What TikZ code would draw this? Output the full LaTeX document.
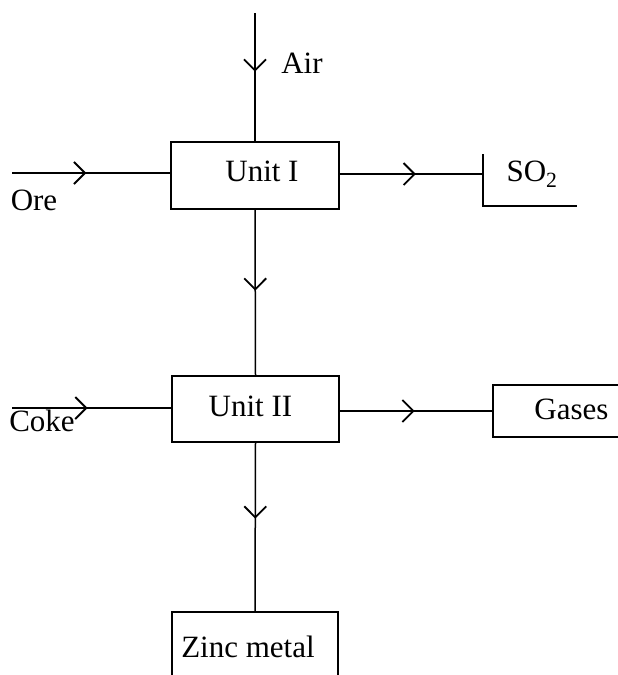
\documentclass[tikz,border=0pt]{standalone}
\usepackage{fontspec}
\setmainfont{Liberation Serif}
\usetikzlibrary{arrows.meta,decorations.markings}
\begin{document}
\begin{tikzpicture}[x=1pt,y=-1pt,
  font=\fontsize{31}{36}\selectfont,
  box/.style={draw, line width=2pt, inner sep=0pt, rectangle},
  flow/.style={line width=1.5pt},
  midarrow/.style={postaction={decorate}, decoration={markings,
     mark=at position #1 with {\arrow{Straight Barb[length=11pt,width=22pt,line width=1.8pt]}}}},
  lbl/.style={inner sep=0pt}]
\clip (0,0) rectangle (618,675);
\useasboundingbox (0,0) rectangle (618,675);
% boxes
\node[box, minimum width=168pt, minimum height=67pt] (u1) at (255,175) {\raisebox{7pt}{\hspace{14pt}Unit I}};
\node[box, minimum width=167pt, minimum height=66pt] (u2) at (255.5,409) {\raisebox{6pt}{Unit II\hspace{10pt}}};
\node[box, line width=1.5pt, minimum width=157pt, minimum height=52pt] (gas) at (571.5,411) {\raisebox{3pt}{Gases}};
\node[box, minimum width=166pt, minimum height=88pt] (zn) at (255,656) {\raisebox{18pt}{Zinc metal\hspace{14pt}}};
% free ends
\coordinate (air) at (255,13);
\coordinate (ore) at (12,173);
\coordinate (coke) at (12,408);
\coordinate (so2) at (483,174);
\coordinate (so2top) at (483,154);
\coordinate (so2bot) at (483,206);
\coordinate (so2end) at (577,206);
% connectors
\draw[flow, midarrow=0.46] (air) -- (u1.north);
\draw[flow, midarrow=0.47] (ore) -- (ore -| u1.west);
\draw[flow, midarrow=0.53] (u1.east |- so2) -- (so2);
\draw[flow] (so2top) -- (so2bot) -- (so2end);
\draw[flow, midarrow=0.49] (u1.south) -- (u2.north);
\draw[flow, midarrow=0.475] (coke) -- (coke -| u2.west);
\draw[flow, midarrow=0.49] (u2.east |- gas.west) -- (gas.west);
\draw[flow, midarrow=0.45] (u2.south) -- (zn.north);
% labels
\node[lbl] (airl) at (302,63) {Air};
\node[lbl] (orel) at (34,200) {Ore};
\node[lbl] (cokel) at (42,421) {Coke};
\node[lbl] (so2l) at (532,174) {SO\textsubscript{2}};
\end{tikzpicture}
\end{document}
